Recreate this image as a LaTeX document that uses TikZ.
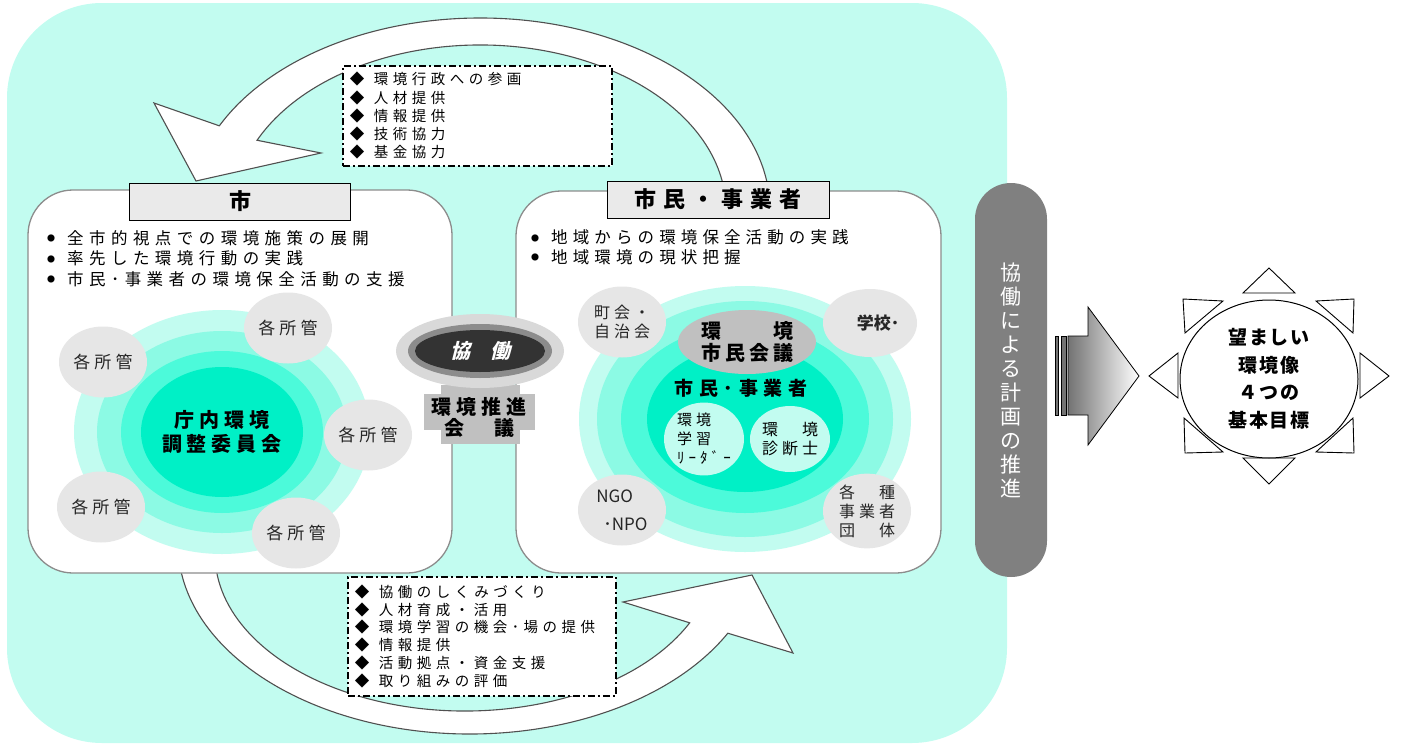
\documentclass[tikz,border=0pt]{standalone}
\usepackage{fontspec}
\setmainfont{Noto Sans CJK JP}
\newfontfamily\slantjp{Noto Sans CJK JP}[FakeSlant=0.25]
\usetikzlibrary{shapes.geometric}

\definecolor{bgcyan}{RGB}{194,252,240}
\definecolor{ringa}{RGB}{140,250,228}
\definecolor{ringb}{RGB}{76,250,218}
\definecolor{ringc}{RGB}{0,240,198}
\definecolor{softgray}{RGB}{230,230,230}
\definecolor{titlegray}{RGB}{234,234,234}
\definecolor{midgray}{RGB}{192,192,192}
\definecolor{bargray}{RGB}{128,128,128}
\definecolor{edgegray}{RGB}{80,80,80}

\def\trk#1{\addfontfeatures{LetterSpace=#1}}
\def\bul{\makebox[20pt][l]{\raisebox{2.5pt}{\fontsize{8}{8}\selectfont ●}}}
\def\dia{\makebox[24pt][l]{◆}}

\tikzset{
	panel/.style={draw=black!45, fill=white, line width=1.3pt, rounded corners=45pt},
	titlebox/.style={draw=black, fill=titlegray, line width=1pt, minimum width=221pt, minimum height=37pt, inner sep=0pt, font=\bfseries\fontsize{22}{22}\selectfont\trk{32}},
	bigarrow/.style={draw=edgegray, fill=white, line width=1.1pt},
	dashbox/.style={draw=black, fill=white, line width=1.7pt, dash pattern=on 7pt off 3pt on 2pt off 3pt, anchor=north west, inner xsep=7pt, inner ysep=0pt, align=left, font=\fontsize{14.5}{18.25}\selectfont\trk{31}},
	blob/.style={ellipse, fill=softgray, inner sep=0pt, minimum width=88pt, minimum height=71pt, text=black!85, font=\fontsize{17}{17}\selectfont\trk{24}},
	inner/.style={ellipse, fill=bgcyan, inner sep=0pt, minimum width=80pt, minimum height=66pt, align=left},
	ray/.style={draw=black, fill=white, line width=0.9pt},
	listtext/.style={anchor=west, inner sep=0pt, align=left}
}

\begin{document}
\begin{tikzpicture}[x=1pt,y=-1pt]
		%%%%% START %%%%%
		\useasboundingbox (0,0) rectangle (1401,744);
		
		\fill[bgcyan, rounded corners=95pt] (7,3) rectangle (1007,743);
		
		\draw[bigarrow] ({480+290*cos(-3)},{210+192*sin(-3)}) arc[start angle=-3, end angle=-154, x radius=290, y radius=192] -- (154,103) -- (196,181) -- (321,153) -- ({480+246*cos(-155)},{210+165*sin(-155)}) arc[start angle=-155, end angle=-3, x radius=246, y radius=165] -- cycle;
		\draw[bigarrow] ({470+292*cos(174)},{544+190*sin(174)}) arc[start angle=174, end angle=28, x radius=292, y radius=190] -- (793,653) -- (752,575) -- (623,602) -- ({465+250*cos(26)},{554+157*sin(26)}) arc[start angle=26, end angle=176, x radius=250, y radius=157] -- cycle;
		
		\draw[panel] (28,190) rectangle (452,573);
		\draw[panel] (516,191) rectangle (941,573);
		
		% shi
		\fill[bgcyan] (222,432) ellipse [x radius=148, y radius=122];
		\fill[ringa] (222,432) ellipse [x radius=125, y radius=101];
		\fill[ringb] (222,432) ellipse [x radius=101, y radius=81];
		\fill[ringc] (222,432) ellipse [x radius=81, y radius=65];
		\node[font=\bfseries\fontsize{20}{24}\selectfont\trk{25}, align=center] (chonai) at (222,432) {庁内環境\\調整委員会};
		
		\node[blob] (shokan1) at (103,362) {各所管};
		\node[blob] (shokan2) at (288,328) {各所管};
		\node[blob] (shokan3) at (368,435) {各所管};
		\node[blob] (shokan4) at (101,507) {各所管};
		\node[blob] (shokan5) at (296,533) {各所管};
		
		% shimin
		\fill[bgcyan] (745,419) ellipse [x radius=166, y radius=133];
		\fill[ringa] (745,419) ellipse [x radius=148, y radius=118];
		\fill[ringb] (745,419) ellipse [x radius=124, y radius=94];
		\fill[ringc] (745,419) ellipse [x radius=98, y radius=73];
		
		\node[blob, font=\fontsize{16}{19}\selectfont\trk{25}, align=left] (chokai) at (622,322) {町会・\\自治会};
		\node[blob, minimum width=94pt, minimum height=68pt, font=\bfseries\fontsize{17}{17}\selectfont] (gakko) at (870,323) {\hspace{16pt}学校･};
		\node[blob, font=\fontsize{17}{28}\selectfont, align=left] (ngo) at (622,510) {NGO\\ \hspace{7pt}･NPO};
		\node[blob, font=\fontsize{16}{19}\selectfont\trk{25}, align=left] (gyosha) at (867,511) {各　種\\事業者\\団　体};
		\node[ellipse, fill=midgray, inner sep=0pt, minimum width=138pt, minimum height=64pt, font=\bfseries\fontsize{20}{22}\selectfont\trk{20}, align=center] (kaigi) at (747,342) {環　　境\\市民会議};
		\node[font=\bfseries\fontsize{19}{19}\selectfont\trk{30}] (shimin) at (741,388) {市民･事業者};
		\node[inner, font=\fontsize{15}{19}\selectfont\trk{27}] (leader) at (704,439) {環境\\学習\\ﾘｰﾀﾞｰ};
		\node[inner, font=\fontsize{16}{19}\selectfont\trk{25}] (shindan) at (790,439) {環　境\\診断士};
		
		\node[titlebox] (shi) at (240,201.5) {市};
		\node[titlebox, minimum width=222pt] (shimintitle) at (718,199.5) {市民・事業者};
		
		\node[listtext, font=\fontsize{16.5}{20.5}\selectfont\trk{33}] (shiitems) at (47,258.5) {\bul 全市的視点での環境施策の展開\\\bul 率先した環境行動の実践\\\bul 市民･事業者の環境保全活動の支援};
		\node[listtext, font=\fontsize{16.5}{19.5}\selectfont\trk{31}] (shiminitems) at (531,247.5) {\bul 地域からの環境保全活動の実践\\\bul 地域環境の現状把握};
		
		\node[dashbox, text width=255pt, minimum height=100pt] (kokenbox) at (342,65) {\dia 環境行政への参画\\\dia 人材提供\\\dia 情報提供\\\dia 技術協力\\\dia 基金協力};
		\node[dashbox, text width=254pt, minimum height=119pt, font=\fontsize{14.5}{17.8}\selectfont\trk{31}] (shienbox) at (347,576) {\dia 協働のしくみづくり\\\dia 人材育成・活用\\\dia 環境学習の機会･場の提供\\\dia 情報提供\\\dia 活動拠点・資金支援\\\dia 取り組みの評価};
		
		% kyodo
		\fill[midgray] (441,385) rectangle (520,444);
		\fill[midgray] (424,394) rectangle (535,430);
		\node[font=\bfseries\fontsize{20}{21}\selectfont\trk{25}, align=center] (suishin) at (479,417) {環境推進\\会　議};
		\fill[black!15] (480,351) ellipse [x radius=84, y radius=37];
		\fill[black!45] (480,351) ellipse [x radius=72, y radius=27];
		\node[ellipse, fill=black!80, inner sep=0pt, minimum width=130pt, minimum height=42pt, text=white, font=\slantjp\bfseries\fontsize{20}{20}\selectfont] (kyodo) at (480,351) {協\hspace{20pt}働};
		
		\node[fill=bargray, rounded corners=36pt, minimum width=72pt, minimum height=394pt, text=white, align=center, font=\fontsize{21}{24}\selectfont] (bar) at (1011,380) {協\\働\\に\\よ\\る\\計\\画\\の\\推\\進};
		
		\filldraw[fill=black!55, draw=black, line width=.6pt] (1055,336) rectangle (1058,415);
		\filldraw[fill=black!55, draw=black, line width=.6pt] (1061,336) rectangle (1066,415);
		\shadedraw[left color=black!55, right color=white, draw=black, line width=.8pt] (1068,336) -- (1088,336) -- (1088,307) -- (1139,376) -- (1088,445) -- (1088,415) -- (1068,415) -- cycle;
		
		% sun
		\draw[ray] (1243,293) -- (1269,268) -- (1295,293) -- cycle;
		\draw[ray] (1243,458) -- (1269,484) -- (1295,458) -- cycle;
		\draw[ray] (1178,353) -- (1149,376) -- (1178,398) -- cycle;
		\draw[ray] (1360,353) -- (1389,376) -- (1360,398) -- cycle;
		\draw[ray] (1183,299) -- (1223,301) -- (1185,333) -- cycle;
		\draw[ray] (1316,301) -- (1354,299) -- (1353,333) -- cycle;
		\draw[ray] (1184,418) -- (1185,453) -- (1223,452) -- cycle;
		\draw[ray] (1353,418) -- (1354,453) -- (1316,452) -- cycle;
		\node[ellipse, draw=black, fill=white, line width=1pt, minimum width=178pt, minimum height=158pt, inner sep=0pt, align=center, font=\bfseries\fontsize{19}{27.5}\selectfont\trk{10}] (goal) at (1269,379) {望ましい\\環境像\\４つの\\基本目標};
		
		%%%%% END %%%%%
\end{tikzpicture}
\end{document}
